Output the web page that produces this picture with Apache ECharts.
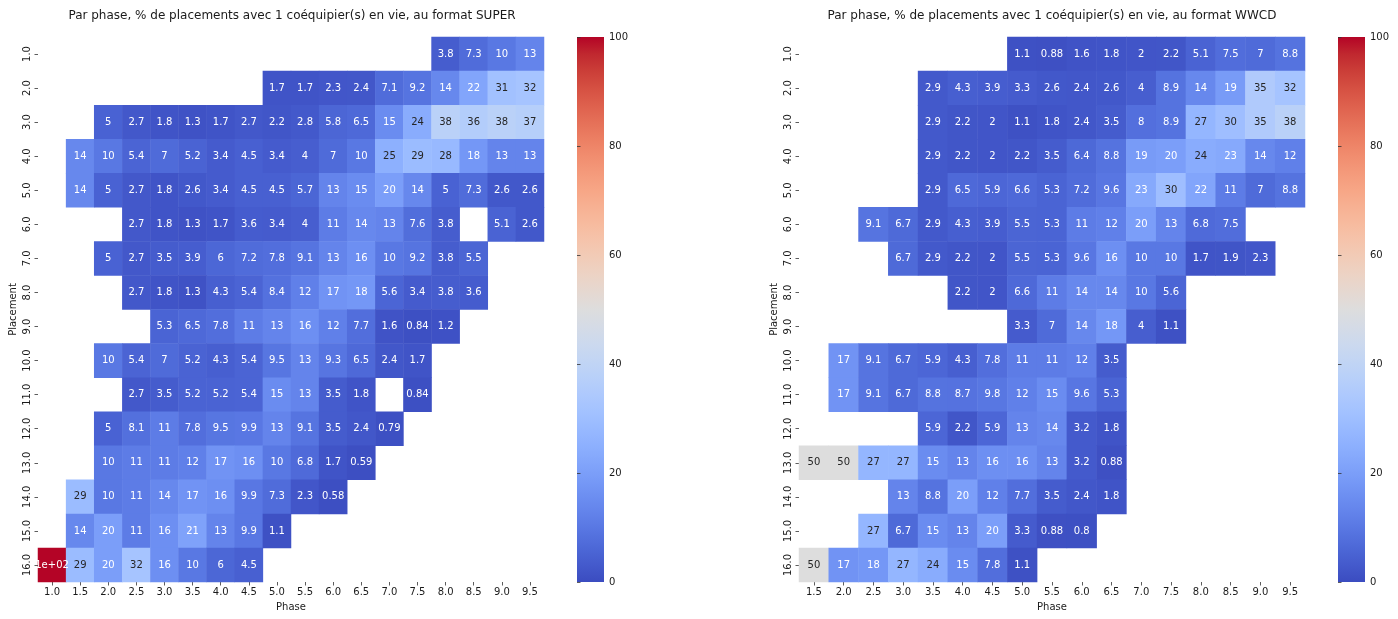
<!DOCTYPE html>
<html>
<head>
<meta charset="utf-8">
<script src="https://cdn.jsdelivr.net/npm/echarts@6/dist/echarts.min.js"></script>
<style>
html,body{margin:0;padding:0;background:#fff;}
#chart{width:1398px;height:619px;}
</style>
</head>
<body>
<div id="chart"></div>
<script>
// ---- Data ----
const superPhases = ['1.0','1.5','2.0','2.5','3.0','3.5','4.0','4.5','5.0','5.5','6.0','6.5','7.0','7.5','8.0','8.5','9.0','9.5'];
const wwcdPhases = ['1.5','2.0','2.5','3.0','3.5','4.0','4.5','5.0','5.5','6.0','6.5','7.0','7.5','8.0','8.5','9.0','9.5'];
const placements = ['1.0','2.0','3.0','4.0','5.0','6.0','7.0','8.0','9.0','10.0','11.0','12.0','13.0','14.0','15.0','16.0'];
const colorbarTicks = [0, 20, 40, 60, 80, 100];
const titleSuper = 'Par phase, % de placements avec 1 coéquipier(s) en vie, au format SUPER';
const titleWwcd = 'Par phase, % de placements avec 1 coéquipier(s) en vie, au format WWCD';

const N = null;
// rows = placements, columns = superPhases (1.0 .. 9.5)
const superValues = [
  [N,N,N,N,N,N,N,N,N,N,N,N,N,N,3.8,7.3,10,13],
  [N,N,N,N,N,N,N,N,1.7,1.7,2.3,2.4,7.1,9.2,14,22,31,32],
  [N,N,5,2.7,1.8,1.3,1.7,2.7,2.2,2.8,5.8,6.5,15,24,38,36,38,37],
  [N,14,10,5.4,7,5.2,3.4,4.5,3.4,4,7,10,25,29,28,18,13,13],
  [N,14,5,2.7,1.8,2.6,3.4,4.5,4.5,5.7,13,15,20,14,5,7.3,2.6,2.6],
  [N,N,N,2.7,1.8,1.3,1.7,3.6,3.4,4,11,14,13,7.6,3.8,N,5.1,2.6],
  [N,N,5,2.7,3.5,3.9,6,7.2,7.8,9.1,13,16,10,9.2,3.8,5.5,N,N],
  [N,N,N,2.7,1.8,1.3,4.3,5.4,8.4,12,17,18,5.6,3.4,3.8,3.6,N,N],
  [N,N,N,N,5.3,6.5,7.8,11,13,16,12,7.7,1.6,0.84,1.2,N,N,N],
  [N,N,10,5.4,7,5.2,4.3,5.4,9.5,13,9.3,6.5,2.4,1.7,N,N,N,N],
  [N,N,N,2.7,3.5,5.2,5.2,5.4,15,13,3.5,1.8,N,0.84,N,N,N,N],
  [N,N,5,8.1,11,7.8,9.5,9.9,13,9.1,3.5,2.4,0.79,N,N,N,N,N],
  [N,N,10,11,11,12,17,16,10,6.8,1.7,0.59,N,N,N,N,N,N],
  [N,29,10,11,14,17,16,9.9,7.3,2.3,0.58,N,N,N,N,N,N,N],
  [N,14,20,11,16,21,13,9.9,1.1,N,N,N,N,N,N,N,N,N],
  [100,29,20,32,16,10,6,4.5,N,N,N,N,N,N,N,N,N,N]
];
// rows = placements, columns = wwcdPhases (1.5 .. 9.5)
const wwcdValues = [
  [N,N,N,N,N,N,N,1.1,0.88,1.6,1.8,2,2.2,5.1,7.5,7,8.8],
  [N,N,N,N,2.9,4.3,3.9,3.3,2.6,2.4,2.6,4,8.9,14,19,35,32],
  [N,N,N,N,2.9,2.2,2,1.1,1.8,2.4,3.5,8,8.9,27,30,35,38],
  [N,N,N,N,2.9,2.2,2,2.2,3.5,6.4,8.8,19,20,24,23,14,12],
  [N,N,N,N,2.9,6.5,5.9,6.6,5.3,7.2,9.6,23,30,22,11,7,8.8],
  [N,N,9.1,6.7,2.9,4.3,3.9,5.5,5.3,11,12,20,13,6.8,7.5,N,N],
  [N,N,N,6.7,2.9,2.2,2,5.5,5.3,9.6,16,10,10,1.7,1.9,2.3,N],
  [N,N,N,N,N,2.2,2,6.6,11,14,14,10,5.6,N,N,N,N],
  [N,N,N,N,N,N,N,3.3,7,14,18,4,1.1,N,N,N,N],
  [N,17,9.1,6.7,5.9,4.3,7.8,11,11,12,3.5,N,N,N,N,N,N],
  [N,17,9.1,6.7,8.8,8.7,9.8,12,15,9.6,5.3,N,N,N,N,N,N],
  [N,N,N,N,5.9,2.2,5.9,13,14,3.2,1.8,N,N,N,N,N,N],
  [50,50,27,27,15,13,16,16,13,3.2,0.88,N,N,N,N,N,N],
  [N,N,N,13,8.8,20,12,7.7,3.5,2.4,1.8,N,N,N,N,N,N],
  [N,N,27,6.7,15,13,20,3.3,0.88,0.8,N,N,N,N,N,N,N],
  [50,17,18,27,24,15,7.8,1.1,N,N,N,N,N,N,N,N,N]
];

// ---- coolwarm colormap ----
const coolwarm = [
  [59,76,192],[68,90,204],[77,104,215],[87,117,225],[98,130,234],[108,142,241],
  [119,154,247],[130,165,251],[141,176,254],[152,185,255],[163,194,255],[174,201,253],
  [184,208,249],[194,213,244],[204,217,238],[213,219,230],[221,221,221],[229,216,209],
  [236,211,197],[241,204,184],[245,196,172],[247,187,159],[247,177,147],[247,166,134],
  [244,154,123],[241,141,111],[236,127,99],[229,112,88],[222,96,77],[213,80,66],
  [203,62,56],[192,40,47],[180,4,38]
];
const cwHex = coolwarm.map(c => 'rgb(' + c.join(',') + ')');
function cmap(v) {
  const t = Math.max(0, Math.min(1, v / 100)) * (coolwarm.length - 1);
  const i = Math.min(Math.floor(t), coolwarm.length - 2);
  const f = t - i;
  return coolwarm[i].map((c, k) => c + (coolwarm[i + 1][k] - c) * f);
}
function luminance(rgb) {
  const l = rgb.map(c => { c /= 255; return c <= 0.03928 ? c / 12.92 : Math.pow((c + 0.055) / 1.055, 2.4); });
  return 0.2126 * l[0] + 0.7152 * l[1] + 0.0722 * l[2];
}
function fmtG2(v) {
  if (Math.abs(v) >= 100) {
    const e = Math.floor(Math.log10(Math.abs(v)));
    const m = Number((v / Math.pow(10, e)).toPrecision(2));
    return String(m) + 'e+' + String(e).padStart(2, '0');
  }
  return String(Number(v.toPrecision(2)));
}
function buildData(rows) {
  const out = [];
  rows.forEach((row, yi) => row.forEach((v, xi) => {
    if (v === null) return;
    const dark = luminance(cmap(v)) > 0.408;
    out.push({ value: [xi, yi, v], label: { color: dark ? '#262626' : '#ffffff' } });
  }));
  return out;
}

const FONT = 'DejaVu Sans';
const TXT = '#1a1a1a';
const G = [
  { left: 38, top: 37, width: 506, height: 545 },
  { left: 799, top: 37, width: 506, height: 545 },
  { left: 577, top: 37, width: 27, height: 545 },
  { left: 1338, top: 37, width: 27, height: 545 }
];

function catX(idx, data) {
  return {
    type: 'category', gridIndex: idx, data: data, position: 'bottom',
    axisLine: { show: false },
    axisTick: { show: true, alignWithLabel: true, length: 3.5, lineStyle: { color: '#333', width: 0.8 } },
    axisLabel: { fontFamily: FONT, fontSize: 10, color: TXT, margin: 5 },
    splitLine: { show: false },
    name: 'Phase', nameLocation: 'middle', nameGap: 20,
    nameTextStyle: { fontFamily: FONT, fontSize: 10, color: TXT }
  };
}
function catY(idx) {
  return {
    type: 'category', gridIndex: idx, data: placements, inverse: true,
    axisLine: { show: false },
    axisTick: { show: true, alignWithLabel: true, length: 3.5, lineStyle: { color: '#333', width: 0.8 } },
    axisLabel: { fontFamily: FONT, fontSize: 10, color: TXT, rotate: 90, margin: 6 },
    splitLine: { show: false },
    name: 'Placement', nameLocation: 'middle', nameGap: 20, nameRotate: 90,
    nameTextStyle: { fontFamily: FONT, fontSize: 10, color: TXT }
  };
}
function cbarY(idx) {
  return {
    type: 'value', gridIndex: idx, min: 0, max: 100, interval: 20, position: 'right',
    axisLine: { show: false },
    axisTick: { show: true, length: 3.5, lineStyle: { color: '#333', width: 0.8 } },
    axisLabel: { fontFamily: FONT, fontSize: 10, color: TXT, margin: 5,
      formatter: v => colorbarTicks.includes(v) ? String(v) : '' },
    splitLine: { show: false }
  };
}
function cbarX(idx) {
  return { type: 'value', gridIndex: idx, show: false, min: 0, max: 1,
    axisLine: { show: false }, axisTick: { show: false }, axisLabel: { show: false },
    splitLine: { show: false } };
}
function visual(idx) {
  return {
    type: 'continuous', show: false, seriesIndex: idx, min: 0, max: 100, dimension: 2,
    inRange: { color: cwHex }
  };
}
function colorbarRect(g) {
  return {
    type: 'rect', silent: true, z: 0,
    shape: { x: g.left, y: g.top, width: g.width, height: g.height },
    style: {
      fill: new echarts.graphic.LinearGradient(0, 1, 0, 0,
        cwHex.map((c, i) => ({ offset: i / (cwHex.length - 1), color: c })))
    }
  };
}
function heat(idx, rows) {
  return {
    type: 'heatmap', xAxisIndex: idx, yAxisIndex: idx, data: buildData(rows),
    itemStyle: { borderWidth: 0 },
    label: { show: true, fontFamily: FONT, fontSize: 10,
      formatter: p => fmtG2(p.value[2]) },
    emphasis: { disabled: true }
  };
}

const chart = echarts.init(document.getElementById('chart'), null, { renderer: 'canvas' });
chart.setOption({
  backgroundColor: '#ffffff',
  animation: false,
  title: [
    { text: titleSuper, left: 287, top: 5, textAlign: 'center',
      textStyle: { fontFamily: FONT, fontSize: 12, fontWeight: 'normal', color: TXT } },
    { text: titleWwcd, left: 1047, top: 5, textAlign: 'center',
      textStyle: { fontFamily: FONT, fontSize: 12, fontWeight: 'normal', color: TXT } }
  ],
  grid: G,
  xAxis: [catX(0, superPhases), catX(1, wwcdPhases), cbarX(2), cbarX(3)],
  yAxis: [catY(0), catY(1), cbarY(2), cbarY(3)],
  visualMap: [visual(0), visual(1)],
  graphic: [colorbarRect(G[2]), colorbarRect(G[3])],
  series: [heat(0, superValues), heat(1, wwcdValues)]
});
</script>
</body>
</html>
